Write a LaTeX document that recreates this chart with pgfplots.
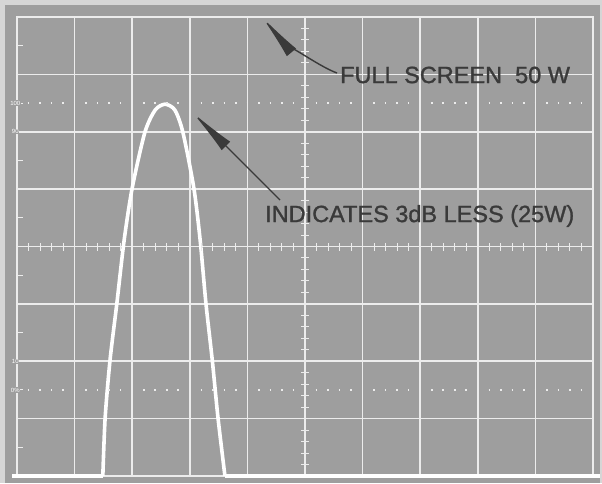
\documentclass[border=0pt]{standalone}
\usepackage{pgfplots}
\pgfplotsset{compat=1.18}
\usepackage{fontspec}
\setmainfont{Liberation Sans}
\newfontfamily\labelfont[FakeBold=1.2]{Liberation Sans}
\usetikzlibrary{arrows.meta}
\definecolor{scr}{RGB}{158,158,158}
\definecolor{outer}{RGB}{214,214,214}
\definecolor{ink}{RGB}{58,58,58}
\definecolor{gridc}{RGB}{236,236,236}
\begin{document}
\begin{tikzpicture}
\fill[outer] (-17pt,-7pt) rectangle (585pt,476pt);
\fill[scr] (-12pt,-7pt) rectangle (583pt,471pt);
\begin{axis}[
    scale only axis,
    width=576pt, height=459pt,
    xmin=0, xmax=10, ymin=0, ymax=8,
    xtick={0,...,10}, ytick={0,...,8},
    xticklabels={}, yticklabels={},
    major tick length=0pt,
    grid=major,
    major grid style={gridc, line width=1.6pt},
    axis line style={gridc, line width=1.8pt},
    clip=false,
    ]
% trace: baseline, pulse, baseline
\addplot[white, line width=3.6pt] coordinates {(-0.08,0) (1.49,0)};
\addplot[white, line width=3.6pt, smooth, tension=0.45] coordinates {
    (1.49,0) (1.53,1.01) (1.615,2.02) (1.735,3.02) (1.86,4.11) (2.00,5.02)
    (2.22,5.99) (2.40,6.38) (2.57,6.48) (2.74,6.38) (2.88,5.99) (3.07,5.02)
    (3.18,4.11) (3.28,3.01) (3.39,2.02) (3.49,1.01) (3.61,0)
    };
\addplot[white, line width=3.6pt] coordinates {(3.61,0) (10.12,0)};
\end{axis}
% graticule details
\begin{scope}[x=57.6pt, y=57.375pt]
\foreach \k in {1,...,49} \draw[gridc, line width=1pt] (0.2*\k,4) ++(0,-4pt) -- ++(0,8pt);
\foreach \k in {1,...,39} \draw[gridc, line width=1pt] (5,0.2*\k) ++(-4pt,0) -- ++(8pt,0);
\foreach \k in {0,...,7} \draw[gridc, line width=1pt] (0,\k+0.5) -- ++(6pt,0);
\draw[gridc, line width=1.6pt, dash pattern=on 1.6pt off 9.92pt] (0.2,6.5) ++(-0.8pt,0) -- (10,6.5);
\draw[gridc, line width=1.6pt, dash pattern=on 1.6pt off 9.92pt] (0.2,1.5) ++(-0.8pt,0) -- (10,1.5);
\foreach \v/\t in {6.5/100, 6/90, 2/10, 1.5/0\%}
  \node[white, font=\fontsize{6}{7}\selectfont, inner sep=0.6pt, fill=scr] at (-0.03,\v) {\t};
\end{scope}
% annotations
\node[anchor=west, ink, inner sep=0, font=\labelfont\fontsize{23.5}{28}\selectfont] at (323pt,401pt) {FULL SCREEN\ \ 50 W};
\node[anchor=west, ink, inner sep=0, font=\labelfont\fontsize{23.5}{28}\selectfont] at (248pt,260pt) {INDICATES 3dB LESS (25W)};
\draw[ink, line width=1.4pt, -{Latex[length=46pt,width=12pt]}] (320pt,403pt) .. controls (300pt,410pt) and (260pt,441pt) .. (245pt,459pt);
\draw[ink, line width=1.4pt, -{Latex[length=48pt,width=12pt]}] (263pt,276pt) -- (175pt,364pt);
\end{tikzpicture}
\end{document}
